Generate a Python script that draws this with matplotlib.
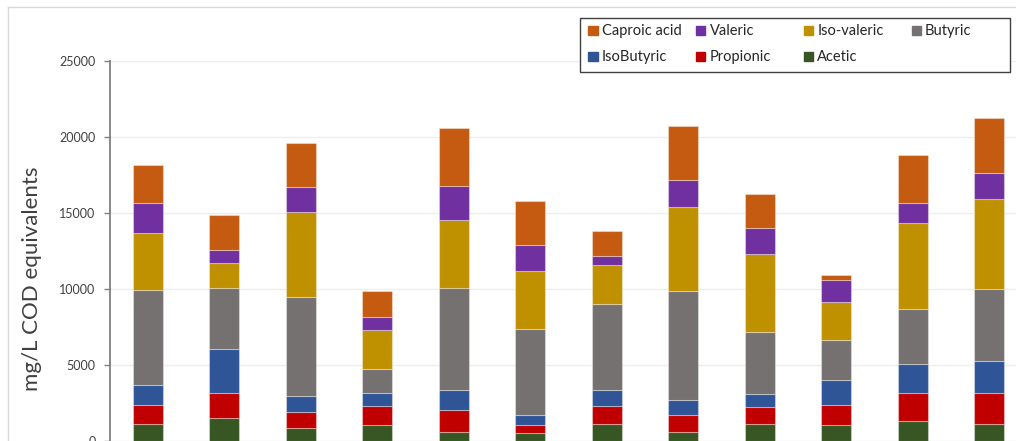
import matplotlib
matplotlib.use('Agg')
import matplotlib.pyplot as plt
import numpy as np
from matplotlib.patches import Rectangle

plt.rcParams['font.family'] = ['Lato', 'DejaVu Sans']

# VFA concentrations per sample, mg/L COD equivalents
samples = np.arange(12)
acetic = [1120, 1490, 860, 1030, 570, 510, 1140, 590, 1120, 1030, 1340, 1100]
propionic = [1270, 1650, 1070, 1290, 1490, 530, 1180, 1100, 1100, 1360, 1840, 2040]
isobutyric = [1320, 2920, 1050, 860, 1300, 660, 1010, 990, 880, 1610, 1910, 2110]
butyric = [6250, 3990, 6510, 1560, 6690, 5660, 5680, 7170, 4100, 2650, 3580, 4780]
isovaleric = [3750, 1640, 5570, 2550, 4470, 3840, 2570, 5550, 5110, 2520, 5660, 5900]
valeric = [1930, 880, 1670, 900, 2280, 1710, 610, 1800, 1730, 1410, 1320, 1690]
caproic = [2540, 2300, 2850, 1650, 3820, 2900, 1610, 3530, 2200, 350, 3180, 3640]

# stacking order, bottom to top
series = [
    ('Acetic', acetic, '#375623'),
    ('Propionic', propionic, '#C00000'),
    ('IsoButyric', isobutyric, '#2F5597'),
    ('Butyric', butyric, '#767171'),
    ('Iso-valeric', isovaleric, '#BF9000'),
    ('Valeric', valeric, '#7030A0'),
    ('Caproic acid', caproic, '#C55A11'),
]

W, H = 1016, 441
fig = plt.figure(figsize=(W / 100, H / 100), dpi=100)
ax = fig.add_axes([109.5 / W, 0, 918 / W, 380 / H])

bottom = np.zeros(len(samples))
for name, vals, col in series:
    ax.bar(samples, vals, width=0.39, bottom=bottom, color=col,
           edgecolor=(1, 1, 1, 0.35), linewidth=0.8, zorder=3)
    bottom += np.array(vals)

ax.set_xlim(-0.5, 11.5)
ax.set_ylim(0, 25000)
ax.set_yticks(range(0, 25001, 5000))
ax.grid(axis='y', color='#eeeeee', linewidth=1, zorder=0)
ax.set_axisbelow(True)
for s in ['top', 'right', 'bottom']:
    ax.spines[s].set_visible(False)
ax.spines['left'].set_color('#808080')
ax.spines['left'].set_linewidth(1.3)
ax.tick_params(axis='y', length=4, width=1, color='#808080', pad=6,
               labelsize=9, labelcolor='#404040')
ax.tick_params(axis='x', bottom=False, labelbottom=False)

fig.text(32 / W, 1 - 279 / H, 'mg/L COD equivalents', rotation=90,
         ha='center', va='center', fontsize=16, color='#404040')

# overlay in pixel units for chart border and legend box
ov = fig.add_axes([0, 0, 1, 1], zorder=5)
ov.set_xlim(0, W)
ov.set_ylim(H, 0)
ov.axis('off')
ov.plot([8, W], [7, 7], color='#d9d9d9', lw=1)
ov.plot([8, 8], [7, H], color='#d9d9d9', lw=1)

ov.add_patch(Rectangle((579.5, 17.5), 430, 54, facecolor='white',
                       edgecolor='#404040', lw=1))
for i, (name, _, col) in enumerate(series[::-1]):
    r, c = divmod(i, 4)
    x0 = 588.3 + 107.8 * c
    yc = 30.7 + 26 * r
    ov.add_patch(Rectangle((x0, yc - 4.7), 9.4, 9.4, color=col))
    ov.text(x0 + 13.4, yc, name, ha='left', va='center', fontsize=10.5,
            color='#262626')

fig.savefig('out.png', dpi=100)
